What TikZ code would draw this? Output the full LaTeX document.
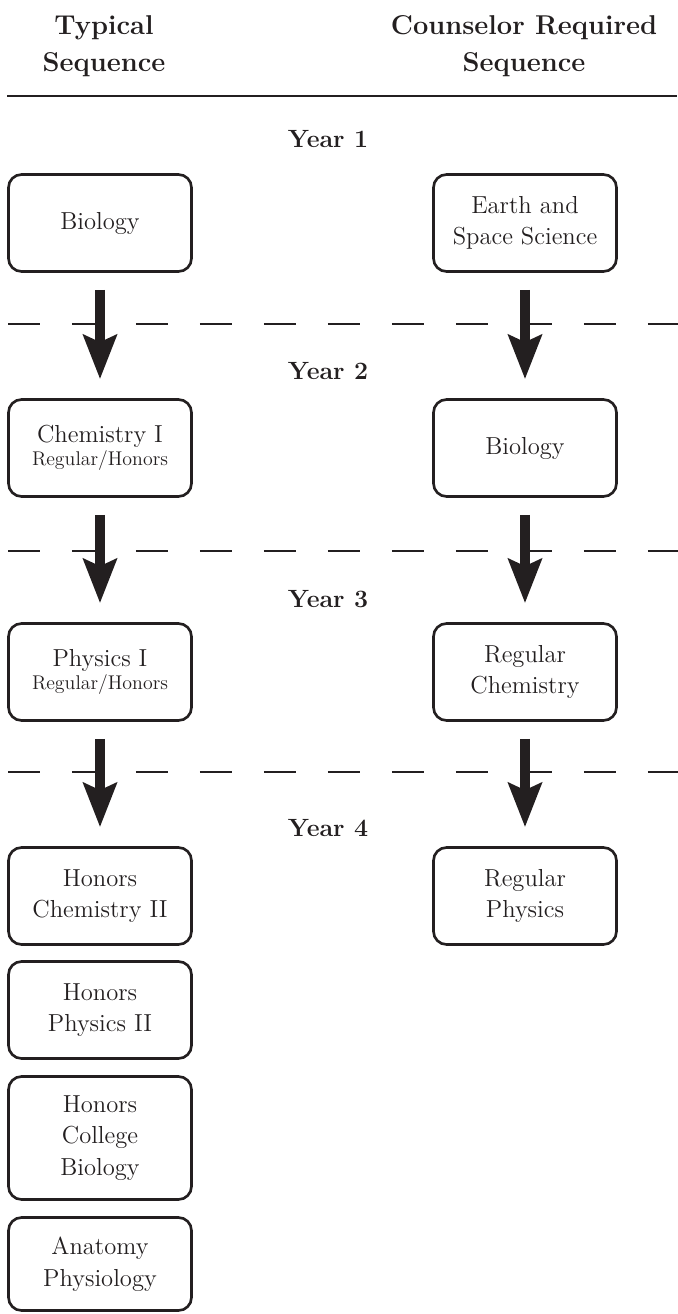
\documentclass[tikz,border=0pt]{standalone}
\usetikzlibrary{arrows.meta}
\definecolor{inkgray}{HTML}{231F20}
\begin{document}
\begin{tikzpicture}[x=0.02cm,y=-0.02cm,
	course/.style={draw=inkgray,text=inkgray,line width=1.5pt,rounded corners=0.26cm,
		minimum width=3.66cm,minimum height=1.94cm,align=center,inner sep=2pt,
		font=\fontsize{14}{18}\selectfont},
	heading/.style={text=inkgray,align=center,font=\bfseries\fontsize{15.5}{21}\selectfont},
	yearlbl/.style={text=inkgray,anchor=base,font=\bfseries\fontsize{14.2}{16}\selectfont},
	flow/.style={draw=inkgray,line width=0.2cm,-{Stealth[length=0.88cm,width=0.66cm,inset=0.14cm]},
		shorten <=0.34cm,shorten >=0.38cm},
	yearsep/.style={draw=inkgray,line width=1.6pt,dash pattern=on 0.64cm off 0.64cm}]
	\useasboundingbox (0,0) rectangle (677,1314);
	% headings
	\node[heading] (hdtyp) at (104,46) {Typical\\Sequence};
	\node[heading] (hdcrs) at (524,46) {Counselor Required\\Sequence};
		\draw[draw=inkgray,line width=1.7pt] (7,96) -- (677,96);
	% years
	\node[yearlbl] (yr1) at (328,148) {Year 1};
	\node[yearlbl] (yr2) at (328,379) {Year 2};
	\node[yearlbl] (yr3) at (328,607) {Year 3};
	\node[yearlbl] (yr4) at (328,836) {Year 4};
		\foreach \y in {324,551,772} \draw[yearsep] (8,\y) -- (680,\y);
	% typical sequence
	\node[course] (typ1) at (100,223) {Biology};
	\node[course] (typ2) at (100,448) {Chemistry I\\[-5pt]{\fontsize{11.3}{12}\selectfont Regular/Honors}};
	\node[course] (typ3) at (100,672) {Physics I\\[-5pt]{\fontsize{11.3}{12}\selectfont Regular/Honors}};
	\node[course] (typ4) at (100,896) {Honors\\Chemistry II};
	\node[course] (typ5) at (100,1010) {Honors\\Physics II};
	\node[course,minimum height=2.46cm] (typ6) at (100,1138) {Honors\\College\\Biology};
	\node[course,minimum height=1.86cm] (typ7) at (100,1264) {Anatomy\\Physiology};
	% counselor required sequence
	\node[course] (crs1) at (525,223) {Earth and\\Space Science};
	\node[course] (crs2) at (525,448) {Biology};
	\node[course] (crs3) at (525,672) {Regular\\Chemistry};
	\node[course] (crs4) at (525,896) {Regular\\Physics};
		\draw[flow] (typ1) -- (typ2);
		\draw[flow] (typ2) -- (typ3);
		\draw[flow] (typ3) -- (typ4);
		\draw[flow] (crs1) -- (crs2);
		\draw[flow] (crs2) -- (crs3);
		\draw[flow] (crs3) -- (crs4);
\end{tikzpicture}
\end{document}
